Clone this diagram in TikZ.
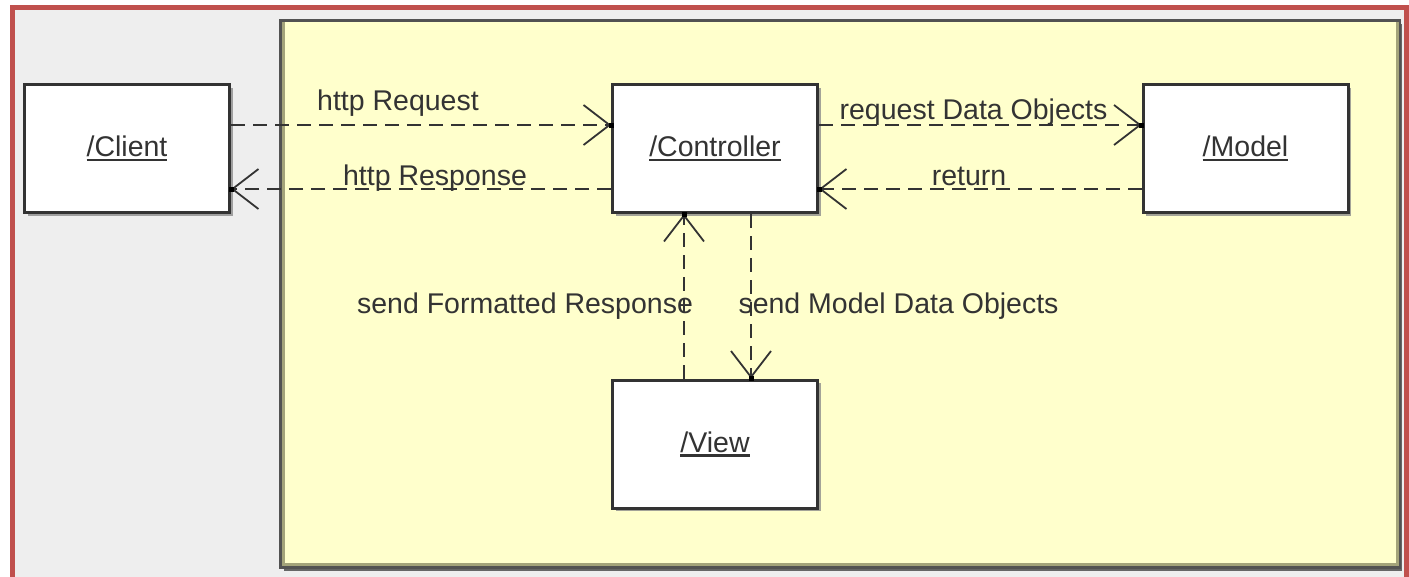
\documentclass[tikz,border=0pt]{standalone}
\usepackage{fontspec}
\setmainfont{Liberation Sans}
\usetikzlibrary{arrows.meta,shadows}
\definecolor{frame}{HTML}{C0504D}
\definecolor{bg}{HTML}{EEEEEE}
\definecolor{pkg}{HTML}{FFFFCC}
\definecolor{ink}{HTML}{333333}
\definecolor{olive}{HTML}{A3A37A}
\newcommand\ulname[1]{\setbox0\hbox{#1}\rlap{\color{ink}\rule[-4.5pt]{\wd0}{2.3pt}}\box0}
\begin{document}
\begin{tikzpicture}[x=1pt,y=-1pt,
  box/.style={draw=ink, line width=3pt, fill=white, minimum width=205pt, minimum height=128pt,
    inner sep=0pt, font=\fontsize{28.5}{34}\selectfont, text=ink,
    drop shadow={shadow xshift=3pt,shadow yshift=-3pt,fill=black!45,opacity=0.8}},
  msg/.style={ink, line width=2.6pt, dash pattern=on 14pt off 8pt,
    -{Straight Barb[length=26pt,width=40pt,line width=1.8pt]}},
  lbl/.style={font=\fontsize{28.5}{34}\selectfont, text=ink, anchor=base, inner sep=0pt},
  tipdot/.style={fill=black}
]
\useasboundingbox (0,0) rectangle (1409,576);
\clip (0,0) rectangle (1409,576);
\fill[white] (0,0) rectangle (1409,576);
\draw[frame, line width=5pt, fill=bg] (12.5,7.5) rectangle (1406.5,620);
% package area
\fill[black!60] (284,24) rectangle (1402,571);
\draw[draw=ink!85, line width=3pt, fill=pkg] (280.5,20.5) rectangle (1399.5,567.5);
\draw[olive, line width=3pt] (283.5,22) -- (283.5,564.5) -- (1397,564.5) -- (1397,22);

% boxes
\node[box] (client) at (127,148.5) {\ulname{/Client}};
\node[box] (ctrl) at (715,148.5) {\ulname{/Controller}};
\node[box] (model) at (1245.5,148.5) {\ulname{/Model}};
\node[box] (view) at (715,444) {\ulname{/View}};

% connectors
\draw[msg] ([yshift=23.5pt]client.east) -- ([yshift=23.5pt]ctrl.west);
\draw[msg] ([yshift=-40.5pt]ctrl.west) -- ([yshift=-40.5pt]client.east);
\draw[msg] ([yshift=23.5pt]ctrl.east) -- ([yshift=23.5pt]model.west);
\draw[msg] ([yshift=-40.5pt]model.west) -- ([yshift=-40.5pt]ctrl.east);
\draw[msg] ([xshift=-31pt]view.north) -- ([xshift=-31pt]ctrl.south);
\draw[msg] ([xshift=36pt]ctrl.south) -- ([xshift=36pt]view.north);

% tip dots
\foreach \p in {([yshift=23.5pt]ctrl.west), ([yshift=-40.5pt]client.east),
  ([yshift=23.5pt]model.west), ([yshift=-40.5pt]ctrl.east),
  ([xshift=-31pt]ctrl.south), ([xshift=36pt]view.north)}
  \fill[tipdot] \p +(-2.5,-2.5) rectangle +(2.5,2.5);

% labels
\node[lbl] (l1) at (398,110) {http Request};
\node[lbl] (l2) at (435,185) {http Response};
\node[lbl] (l3) at (973.5,119) {request Data Objects};
\node[lbl] (l4) at (969,185) {return};
\node[lbl] (l5) at (525,313) {send Formatted Response};
\node[lbl] (l6) at (898.5,313) {send Model Data Objects};
\end{tikzpicture}
\end{document}
